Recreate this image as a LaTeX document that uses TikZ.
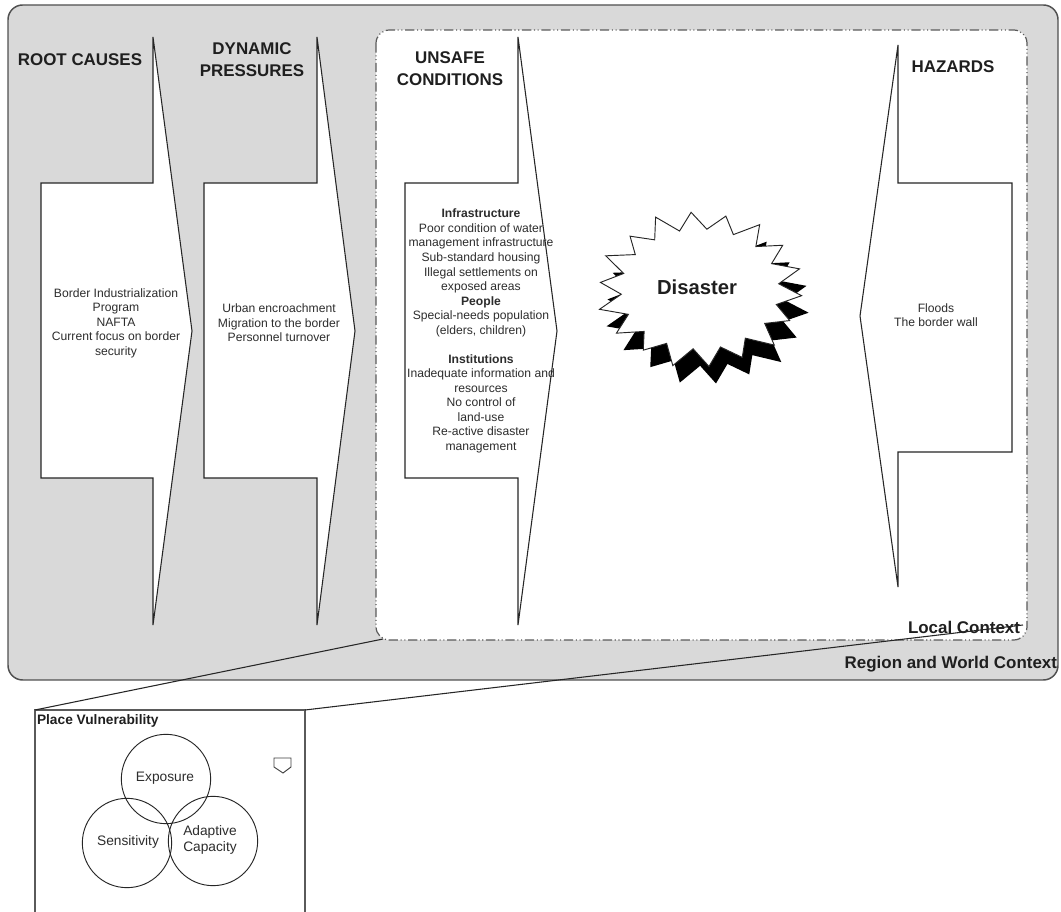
\documentclass[tikz,border=0pt]{standalone}
\usepackage{fontspec}
\setmainfont{Liberation Sans}
\definecolor{worldgray}{RGB}{217,217,217}
\definecolor{worldline}{RGB}{80,80,80}
\definecolor{dashgray}{RGB}{90,90,90}
\definecolor{bodytext}{RGB}{45,45,45}
\begin{document}
\begin{tikzpicture}[x=0.75pt,y=-0.75pt,
  every node/.style={inner sep=0pt,outer sep=0pt},
  world/.style={draw=worldline,line width=1.1pt,fill=worldgray,rounded corners=11pt},
  localctx/.style={draw=dashgray,line width=0.9pt,fill=white,rounded corners=10pt,
    dash pattern=on 7pt off 2pt on 0.8pt off 2pt on 0.8pt off 2pt},
  chevron/.style={draw=black!85,line width=0.8pt,fill=white,line join=miter},
  heading/.style={font=\bfseries\fontsize{12.7}{16.5}\selectfont,text=black!88,align=center},
  body/.style={font=\fontsize{9.1}{10.9}\selectfont,text=bodytext,align=center},
  venn/.style={circle,draw=black!85,line width=0.7pt,minimum size=67pt},
  vennlabel/.style={font=\fontsize{10.3}{12.5}\selectfont,text=bodytext,align=center},
  zoomline/.style={draw=black!85,line width=0.8pt},
  pvbox/.style={draw=dashgray,line width=0.8pt,fill=white,minimum width=202.5pt,minimum height=168.75pt}
]
\useasboundingbox (0,0) rectangle (1061,912);
\clip (0,0) rectangle (1061,912);

% region and world context
\path[world] (8,5) rectangle (1058,680);
% local context
\path[localctx] (376,30) rectangle (1027,640);

% chevron-shaped columns
\path[chevron] (41,183) -- (153,183) -- (153,37) -- (192,331) -- (153,625) -- (153,478) -- (41,478) -- cycle;
\path[chevron] (204,183) -- (317,183) -- (317,37) -- (355,331) -- (317,625) -- (317,478) -- (204,478) -- cycle;
\path[chevron] (405,183) -- (518,183) -- (518,37) -- (557,331) -- (518,625) -- (518,478) -- (405,478) -- cycle;
\path[chevron] (1012,183) -- (898,183) -- (898,45) -- (860,316) -- (898,587) -- (898,452) -- (1012,452) -- cycle;

% headings
\node[heading] (hroot) at (80,60) {ROOT CAUSES};
\node[heading] (hdyn) at (252,60) {DYNAMIC\\PRESSURES};
\node[heading] (hunsafe) at (450,69) {UNSAFE\\CONDITIONS};
\node[heading] (hhaz) at (953,67) {HAZARDS};

% column texts
\node[body] (troot) at (116,323) {Border Industrialization\\Program\\NAFTA\\Current focus on border\\security};
\node[body] (tdyn) at (279,323) {Urban encroachment\\Migration to the border\\Personnel turnover};
\node[body] (tunsafe) at (481,331) {{\bfseries Infrastructure}\\Poor condition of water\\management infrastructure\\Sub-standard housing\\Illegal settlements on\\exposed areas\\{\bfseries People}\\Special-needs population\\(elders, children)\\[10.9pt]{\bfseries Institutions}\\Inadequate information and\\resources\\No control of\\land-use\\Re-active disaster\\management};
\node[body] (thaz) at (936,315) {Floods\\The border wall};

% disaster burst with its shadow
\newcommand\burstoutline{%
  (-5:79 and 60)
  \foreach \i/\r [evaluate=\i as \a using {\i*20+5},
                  evaluate=\i as \b using {\i*20+15}] in
    {0/1,1/0.97,2/1.03,3/0.98,4/1.01,5/1.03,6/0.97,7/1,8/1.02,
     9/0.98,10/1.02,11/0.97,12/1.03,13/1,14/0.98,15/1.02,16/0.99,17/1.01}
    { -- (\a:{102*\r} and {77*\r}) -- (\b:79 and 60) } -- cycle}
\begin{scope}[shift={(707,306)}]
  \fill[black] \burstoutline;
\end{scope}
\begin{scope}[shift={(700,289)}]
  \draw[black!85,line width=0.7pt,fill=white,line join=miter] \burstoutline;
\end{scope}
\node[font=\bfseries\fontsize{15.2}{18}\selectfont,text=black!88] (disaster) at (697,287) {Disaster};

% context labels
\node[heading,anchor=east] (lctx) at (1020,627) {Local Context};
\node[heading,anchor=east] (wctx) at (1057,664) {Region and World Context};

% place vulnerability inset
\node[pvbox] (pv) at (170,822.5) {};
\node[font=\bfseries\fontsize{10.3}{12.5}\selectfont,text=black!88,anchor=west] (pvtitle) at (37,721) {Place Vulnerability};
\node[venn] (exp) at (166,779) {};
\node[venn] (sens) at (127,843) {};
\node[venn] (adap) at (213,841) {};
\node[vennlabel] (lexp) at (165,778) {Exposure};
\node[vennlabel] (lsens) at (128,842) {Sensitivity};
\node[vennlabel] (ladap) at (210,840) {Adaptive\\Capacity};
\draw[draw=black!75,line width=0.7pt] (274,758) -- (291,758) -- (291,767) -- (283,773) -- (274,767) -- cycle;

% zoom lines from the local context to the inset
\coordinate (za) at (383,639);
\coordinate (zb) at (1023,625);
\draw[zoomline] (za) -- (pv.north west);
\draw[zoomline] (zb) -- (pv.north east);
\end{tikzpicture}
\end{document}
